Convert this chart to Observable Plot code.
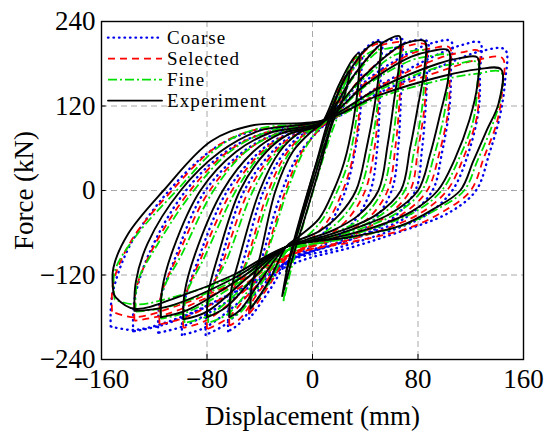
<!DOCTYPE html>
<html>
<head>
<meta charset="utf-8">
<script src="https://cdn.jsdelivr.net/npm/d3@7"></script>
<script src="https://cdn.jsdelivr.net/npm/@observablehq/plot@0.6"></script>
<style>
  body { margin: 0; background: #fff; }
  #wrap { position: relative; width: 550px; height: 434px; font-family: "Liberation Serif", "Times New Roman", serif; }
  #wrap svg text, #wrap svg tspan { font-family: "Liberation Serif", "Times New Roman", serif !important; }
  #legend { position: absolute; left: 106px; top: 27px; }
  .row { position: absolute; left: 0; height: 21px; white-space: nowrap; }
  .row svg { position: absolute; left: 0; top: 0; }
  .row span { display: block; position: absolute; left: 61px; top: 0; height: 21px; font-size: 19px; line-height: 21px; letter-spacing: 1.1px; color: #000; }
</style>
</head>
<body>
<div id="wrap"><div id="legend"></div></div>
<script>
// ---- axes ----
const xTicks = [-160, -80, 0, 80, 160];
const yTicks = [-240, -120, 0, 120, 240];
const xGrid = [-80, 0, 80];
const yGrid = [-120, 0, 120];

// ---- series (each loop: flat list x1,y1,x2,y2,...) ----
const seriesNames = ["Coarse", "Selected", "Fine", "Experiment"];

const coarseLoops = [
  [-48,-182, -47,-145, -39,-100, -24,-5, -11,50, 2,80, 8,92, 22,150, 32,188, 37,198, 37,165, 36,105, 31,45, 25,0, 14,-45, 0,-78, -18,-100, -32,-140, -43,-170, -48,-182],
  [-64,-200, -63,-160, -54,-110, -38,-5, -23,50, -9,78, 8,92, 27,160, 42,205, 52,213, 52,182, 51,125, 49,58, 44,0, 31,-45, 11,-75, -18,-100, -40,-150, -56,-190, -64,-200],
  [-81,-205, -80,-165, -71,-110, -53,-5, -33,50, -17,76, 8,92, 32,165, 52,208, 60,214, 68,215, 68,188, 67,130, 65,62, 60,0, 45,-45, 21,-72, -18,-100, -45,-150, -66,-190, -81,-205],
  [-99,-205, -98,-165, -88,-105, -66,-5, -43,50, -24,76, 8,92, 38,160, 65,205, 75,212, 87,212, 87,180, 86,125, 83,58, 78,0, 59,-42, 31,-68, -18,-100, -50,-150, -82,-195, -99,-205],
  [-117,-202, -116,-160, -105,-100, -83,-5, -56,50, -31,78, 8,93, 42,158, 78,200, 92,210, 105,212, 105,175, 104,120, 98,52, 91,0, 71,-38, 41,-62, -18,-100, -58,-150, -97,-192, -117,-202],
  [-136,-200, -135,-155, -124,-90, -98,-5, -68,52, -39,80, 8,94, 52,150, 97,195, 114,207, 127,210, 127,170, 126,115, 118,52, 106,0, 86,-35, 58,-58, 18,-82, -18,-100, -62,-148, -112,-190, -136,-200],
  [-153,-193, -152,-150, -139,-80, -111,-5, -76,58, -46,84, 8,96, 52,140, 102,180, 128,198, 146,200, 146,155, 142,105, 134,52, 124,0, 103,-32, 64,-60, 29,-81, -9,-100, -60,-145, -100,-180, -135,-198, -153,-193]
];

const selectedLoops = [
  [-48,-175, -47,-140, -37,-98, -21,-3, -9,52, 3,82, 8,93, 21,150, 31,185, 36,195, 36,162, 35,102, 30,42, 23,0, 12,-42, -3,-72, -18,-92, -32,-132, -43,-163, -48,-175],
  [-63,-192, -62,-152, -51,-105, -34,-3, -20,52, -6,80, 8,93, 26,158, 41,200, 51,208, 51,180, 50,122, 47,60, 40,0, 27,-40, 9,-68, -18,-92, -40,-142, -55,-182, -63,-192],
  [-80,-197, -79,-155, -68,-102, -49,-3, -30,52, -14,78, 8,93, 31,162, 51,205, 59,209, 67,210, 67,184, 66,128, 63,64, 57,0, 42,-40, 19,-65, -18,-92, -45,-140, -65,-182, -80,-197],
  [-98,-195, -97,-155, -85,-98, -62,-3, -40,52, -21,78, 8,93, 36,158, 63,200, 73,206, 86,207, 86,175, 85,120, 80,58, 74,0, 55,-38, 30,-62, -18,-92, -50,-140, -81,-185, -98,-195],
  [-116,-190, -115,-150, -102,-92, -79,-3, -53,52, -28,80, 8,94, 41,154, 76,195, 91,202, 104,203, 104,168, 103,115, 96,52, 87,0, 67,-35, 40,-57, -18,-92, -57,-140, -96,-180, -116,-190],
  [-135,-185, -134,-142, -121,-82, -94,-3, -65,54, -36,82, 8,95, 51,148, 96,188, 113,196, 126,198, 126,163, 125,108, 115,49, 102,0, 82,-32, 56,-54, 18,-75, -18,-92, -61,-135, -111,-176, -135,-185],
  [-152,-172, -151,-130, -137,-70, -108,-3, -73,62, -44,86, 8,97, 51,138, 101,172, 126,186, 144,188, 144,145, 140,98, 130,47, 120,0, 99,-30, 72,-54, 30,-73, -18,-92, -60,-132, -100,-162, -135,-180, -152,-172]
];

const fineLoops = [
  [-22,-157, -18,-110, -8,-40, 3,30, 12,90, 22,140, 28,165, 24,130, 14,80, 3,15, -8,-55, -16,-110, -22,-157],
  [-47,-165, -46,-130, -35,-90, -19,0, -7,55, 3,84, 8,95, 20,148, 30,182, 35,190, 35,157, 33,99, 27,40, 19,0, 8,-40, -6,-68, -19,-85, -31,-125, -42,-155, -47,-165],
  [-62,-182, -61,-145, -49,-100, -31,0, -17,55, -4,82, 8,95, 25,155, 40,192, 51,200, 51,174, 49,117, 44,58, 36,0, 23,-38, 7,-62, -19,-85, -40,-135, -54,-172, -62,-182],
  [-79,-188, -78,-148, -65,-98, -45,0, -27,55, -11,80, 8,95, 30,158, 50,198, 58,202, 66,203, 66,180, 64,123, 60,60, 53,0, 38,-38, 17,-60, -19,-85, -44,-132, -64,-175, -79,-188],
  [-97,-188, -96,-150, -82,-95, -58,0, -37,55, -18,80, 8,95, 35,152, 62,192, 72,197, 85,198, 85,170, 83,116, 77,55, 70,0, 51,-36, 27,-58, -19,-85, -49,-132, -79,-178, -97,-188],
  [-115,-182, -114,-145, -99,-90, -75,0, -50,56, -25,82, 8,96, 40,148, 75,185, 90,191, 103,192, 103,160, 100,110, 92,48, 83,0, 63,-33, 37,-54, -19,-85, -55,-130, -94,-172, -115,-182],
  [-134,-172, -133,-132, -118,-78, -90,0, -62,56, -33,84, 8,97, 50,142, 95,175, 112,181, 125,182, 125,150, 122,100, 111,45, 98,0, 78,-30, 52,-50, 16,-70, -19,-85, -59,-128, -109,-165, -134,-172],
  [-150,-155, -150,-115, -134,-65, -103,0, -69,65, -41,88, 8,98, 50,132, 100,158, 125,166, 143,168, 142,127, 135,86, 125,42, 115,0, 94,-27, 68,-50, 29,-67, -19,-85, -59,-122, -99,-148, -134,-162, -150,-155]
];

const experimentLoops = [
  [-23,-150, -18,-100, -8,-30, 3,40, 12,100, 22,150, 28,170, 25,140, 15,95, 5,30, -6,-40, -15,-95, -23,-150],
  [-20,-115, -12,-60, 0,20, 10,80, 18,125, 15,100, 5,40, -8,-40, -20,-115],
  [-47,-168, -46,-135, -40,-95, -28,0, -15,55, 0,85, 7,95, 20,150, 30,185, 35,195, 35,160, 31,100, 24,40, 16,0, 5,-40, -10,-65, -20,-80, -32,-125, -42,-155, -47,-168],
  [-63,-180, -62,-145, -56,-100, -40,0, -25,55, -10,82, 7,95, 25,160, 40,200, 51,211, 51,180, 47,120, 41,60, 33,0, 20,-35, 5,-58, -20,-80, -40,-130, -55,-170, -63,-180],
  [-80,-180, -79,-145, -72,-95, -55,0, -35,55, -18,80, 7,95, 30,160, 50,205, 58,215, 66,219, 66,185, 62,130, 57,65, 50,0, 35,-35, 15,-57, -5,-70, -20,-80, -45,-125, -65,-165, -80,-180],
  [-98,-183, -97,-145, -89,-90, -68,0, -45,55, -25,80, 7,96, 35,155, 62,200, 72,210, 85,212, 85,175, 80,120, 74,60, 67,0, 48,-35, 25,-55, 0,-70, -20,-80, -50,-125, -80,-172, -98,-183],
  [-115,-180, -114,-140, -106,-85, -85,0, -58,55, -32,82, 7,97, 40,150, 75,190, 90,198, 103,199, 103,160, 97,110, 89,50, 80,0, 60,-32, 35,-52, 5,-70, -20,-80, -55,-125, -95,-170, -115,-180],
  [-135,-171, -134,-130, -125,-75, -100,0, -70,55, -40,85, 7,99, 50,145, 95,180, 112,188, 125,189, 125,150, 119,100, 108,45, 95,0, 75,-30, 50,-50, 15,-68, -20,-80, -60,-125, -110,-165, -135,-171],
  [-151,-145, -151,-110, -140,-62, -113,0, -77,70, -47,92, 7,99, 50,135, 100,163, 125,172, 143,172, 141,123, 132,85, 122,42, 112,0, 92,-26, 67,-50, 29,-66, -20,-80, -60,-120, -100,-150, -135,-168, -149,-152, -151,-145]
];

// ---- styles ----
const FONT = '"Liberation Serif", "Times New Roman", serif';
const styles = {
  Coarse:     {stroke: "#0000ee", strokeWidth: 2.4, strokeDasharray: "0.5,5", strokeLinecap: "round"},
  Selected:   {stroke: "#ff0000", strokeWidth: 1.8, strokeDasharray: "7,5", strokeLinecap: "butt"},
  Fine:       {stroke: "#00e000", strokeWidth: 1.8, strokeDasharray: "9,3,2,3", strokeLinecap: "butt"},
  Experiment: {stroke: "#000000", strokeWidth: 1.9, strokeDasharray: null, strokeLinecap: "round"}
};

function rows(name, loops) {
  const out = [];
  loops.forEach((flat, i) => {
    for (let k = 0; k < flat.length; k += 2) out.push({series: name, loop: name + i, x: flat[k], y: flat[k + 1]});
  });
  return out;
}
const data = {
  Coarse: rows("Coarse", coarseLoops),
  Selected: rows("Selected", selectedLoops),
  Fine: rows("Fine", fineLoops),
  Experiment: rows("Experiment", experimentLoops)
};

const lineMarks = seriesNames.map(n => Plot.line(data[n], {
  x: "x", y: "y", z: "loop", curve: "catmull-rom", clip: true,
  stroke: styles[n].stroke, strokeWidth: styles[n].strokeWidth,
  strokeDasharray: styles[n].strokeDasharray, strokeLinecap: styles[n].strokeLinecap,
  strokeLinejoin: "round"
}));

const chart = Plot.plot({
  width: 550,
  height: 434,
  marginTop: 21,
  marginRight: 27,
  marginBottom: 75,
  marginLeft: 101,
  style: {fontFamily: FONT, background: "#fff", color: "#000"},
  x: {domain: [-160, 160]},
  y: {domain: [-240, 240]},
  marks: [
    Plot.ruleX(xGrid, {stroke: "#a8a8a8", strokeWidth: 1, strokeDasharray: "6,4"}),
    Plot.ruleY(yGrid, {stroke: "#a8a8a8", strokeWidth: 1, strokeDasharray: "6,4"}),
    ...lineMarks,
    Plot.ruleX(xTicks, {y1: -240, y2: -233, stroke: "#000", strokeWidth: 1}),
    Plot.ruleY(yTicks, {x1: -160, x2: -156.5, stroke: "#000", strokeWidth: 1}),
    Plot.frame({stroke: "#000", strokeWidth: 1.4}),
    Plot.axisX({ticks: xTicks, tickSize: 0, tickPadding: 9, fontSize: 27, fontFamily: FONT,
      label: "Displacement (mm)", labelAnchor: "center", labelArrow: "none", labelOffset: 65}),
    Plot.axisY({ticks: yTicks, tickSize: 0, tickPadding: 6, fontSize: 27, fontFamily: FONT,
      label: "Force (kN)", labelAnchor: "center", labelArrow: "none", labelOffset: 88})
  ]
});
document.getElementById("wrap").prepend(chart);

// ---- legend ----
const legend = document.getElementById("legend");
const rowTops = [0, 21.1, 42.2, 63.3];
seriesNames.forEach((n, i) => {
  const s = styles[n];
  const row = document.createElement("div");
  row.className = "row";
  row.style.top = rowTops[i] + "px";
  row.innerHTML = `<svg width="58" height="21"><line x1="2" x2="56" y1="10.6" y2="10.6" stroke="${s.stroke}" stroke-width="${s.strokeWidth}" ${s.strokeDasharray ? `stroke-dasharray="${s.strokeDasharray}"` : ""} stroke-linecap="${s.strokeLinecap}"/></svg><span>${n}</span>`;
  legend.appendChild(row);
});
</script>
</body>
</html>
